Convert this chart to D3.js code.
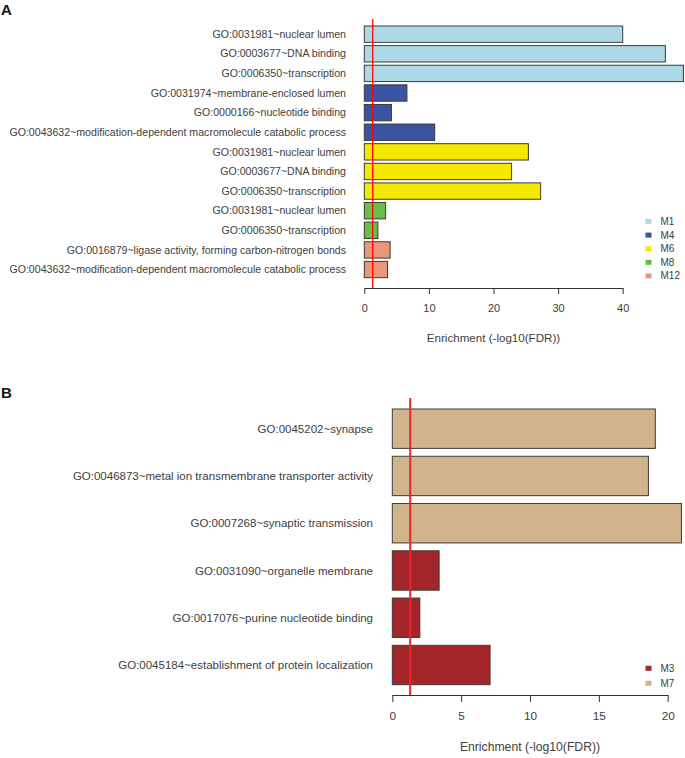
<!DOCTYPE html>
<html>
<head>
<meta charset="utf-8">
<script src="https://cdn.jsdelivr.net/npm/d3@7"></script>
<style>
  body { margin: 0; background: #fff; }
  svg text { font-family: "Liberation Sans", Arial, sans-serif; }
</style>
</head>
<body>
<div id="chart"></div>
<script>
// panel A data (top to bottom)
var termsA = [
  "GO:0031981~nuclear lumen",
  "GO:0003677~DNA binding",
  "GO:0006350~transcription",
  "GO:0031974~membrane-enclosed lumen",
  "GO:0000166~nucleotide binding",
  "GO:0043632~modification-dependent macromolecule catabolic process",
  "GO:0031981~nuclear lumen",
  "GO:0003677~DNA binding",
  "GO:0006350~transcription",
  "GO:0031981~nuclear lumen",
  "GO:0006350~transcription",
  "GO:0016879~ligase activity, forming carbon-nitrogen bonds",
  "GO:0043632~modification-dependent macromolecule catabolic process"
];
var valuesA = [40.0, 46.6, 49.4, 6.6, 4.2, 10.9, 25.4, 22.8, 27.3, 3.3, 2.1, 4.0, 3.6];
var modulesA = ["M1", "M1", "M1", "M4", "M4", "M4", "M6", "M6", "M6", "M8", "M8", "M12", "M12"];
var legendA = ["M1", "M4", "M6", "M8", "M12"];
var ticksA = [0, 10, 20, 30, 40];

// panel B data (top to bottom)
var termsB = [
  "GO:0045202~synapse",
  "GO:0046873~metal ion transmembrane transporter activity",
  "GO:0007268~synaptic transmission",
  "GO:0031090~organelle membrane",
  "GO:0017076~purine nucleotide binding",
  "GO:0045184~establishment of protein localization"
];
var valuesB = [19.1, 18.6, 21.0, 3.4, 2.0, 7.1];
var modulesB = ["M7", "M7", "M7", "M3", "M3", "M3"];
var legendB = ["M3", "M7"];
var ticksB = [0, 5, 10, 15, 20];

// cutoff line at FDR = 0.05
var cutoff = -Math.log10(0.05);

var moduleColor = {
  M1: "#add8e6", M4: "#3a54a4", M6: "#f5e800", M8: "#6abd45",
  M12: "#ea967b", M3: "#a3262a", M7: "#d2b48c"
};

var svg = d3.select("#chart").append("svg")
  .attr("width", 685)
  .attr("height", 758);

function drawPanel(p) {
  var g = svg.append("g");

  var x = d3.scaleLinear().domain([0, p.ticks[p.ticks.length - 1]]).range([p.x0, p.x1]);
  var y = d3.scaleBand()
    .domain(d3.range(p.terms.length))
    .range([p.y0, p.y1])
    .paddingInner(0.2 / 1.2)
    .paddingOuter(0);

  // panel letter
  g.append("text")
    .attr("x", 1)
    .attr("y", p.letterY)
    .attr("font-size", "15px")
    .attr("font-weight", "bold")
    .attr("fill", "#111")
    .text(p.letter);

  // bars
  g.selectAll("rect.bar")
    .data(p.values)
    .enter().append("rect")
    .attr("class", "bar")
    .attr("x", x(0))
    .attr("y", (d, i) => y(i))
    .attr("width", d => x(d) - x(0))
    .attr("height", y.bandwidth())
    .attr("fill", (d, i) => moduleColor[p.modules[i]])
    .attr("stroke", "#3a3a3a")
    .attr("stroke-width", 1);

  // term labels
  g.selectAll("text.term")
    .data(p.terms)
    .enter().append("text")
    .attr("class", "term")
    .attr("x", p.labelX)
    .attr("y", (d, i) => y(i) + y.bandwidth() / 2)
    .attr("dy", "0.35em")
    .attr("text-anchor", "end")
    .attr("font-size", p.labelSize)
    .attr("fill", "#404040")
    .text(d => d);

  // red cutoff line
  g.append("line")
    .attr("x1", x(cutoff)).attr("x2", x(cutoff))
    .attr("y1", p.lineTop).attr("y2", p.axisY)
    .attr("stroke", p.lineColor)
    .attr("stroke-width", p.lineWidth);

  // x axis
  var axis = g.append("g")
    .attr("transform", `translate(0, ${p.axisY})`)
    .style("color", "#333")
    .call(d3.axisBottom(x).tickValues(p.ticks).tickSize(p.tickLen).tickSizeOuter(0).tickPadding(p.tickPad));
  axis.selectAll(".tick text")
    .attr("font-size", p.tickSize)
    .attr("fill", "#404040")
    .attr("font-family", "Liberation Sans, Arial, sans-serif");

  g.append("text")
    .attr("x", (p.x0 + p.x1) / 2)
    .attr("y", p.titleY)
    .attr("dy", "0.35em")
    .attr("text-anchor", "middle")
    .attr("font-size", p.titleSize)
    .attr("fill", "#404040")
    .text("Enrichment (-log10(FDR))");

  // legend
  var leg = g.selectAll("g.legend")
    .data(p.legend)
    .enter().append("g")
    .attr("class", "legend")
    .attr("transform", (d, i) => `translate(${p.legX}, ${p.legY + i * p.legStep})`);
  leg.append("rect")
    .attr("x", -3).attr("y", -2.5)
    .attr("width", 6).attr("height", 5)
    .attr("fill", d => moduleColor[d]);
  leg.append("text")
    .attr("x", 12)
    .attr("dy", "0.35em")
    .attr("font-size", "10px")
    .attr("fill", "#404040")
    .text(d => d);
}

drawPanel({
  letter: "A", letterY: 15,
  terms: termsA, values: valuesA, modules: modulesA, legend: legendA, ticks: ticksA,
  x0: 364.3, x1: 622.7, y0: 26, y1: 277.7,
  labelX: 346, labelSize: "10.6px", tickSize: "11px", titleSize: "11.6px",
  lineTop: 19, axisY: 288, tickLen: 6, tickPad: 10, titleY: 338,
  lineColor: "#ff0000", lineWidth: 1.3,
  legX: 648.5, legY: 221.5, legStep: 13.6
});

drawPanel({
  letter: "B", letterY: 398,
  terms: termsB, values: valuesB, modules: modulesB, legend: legendB, ticks: ticksB,
  x0: 392.3, x1: 667.7, y0: 409, y1: 684.7,
  labelX: 373, labelSize: "11.5px", tickSize: "11.8px", titleSize: "12.2px",
  lineTop: 398, axisY: 695, tickLen: 7, tickPad: 10, titleY: 747,
  lineColor: "#e8262b", lineWidth: 2,
  legX: 648.5, legY: 668.3, legStep: 15
});
</script>
</body>
</html>
